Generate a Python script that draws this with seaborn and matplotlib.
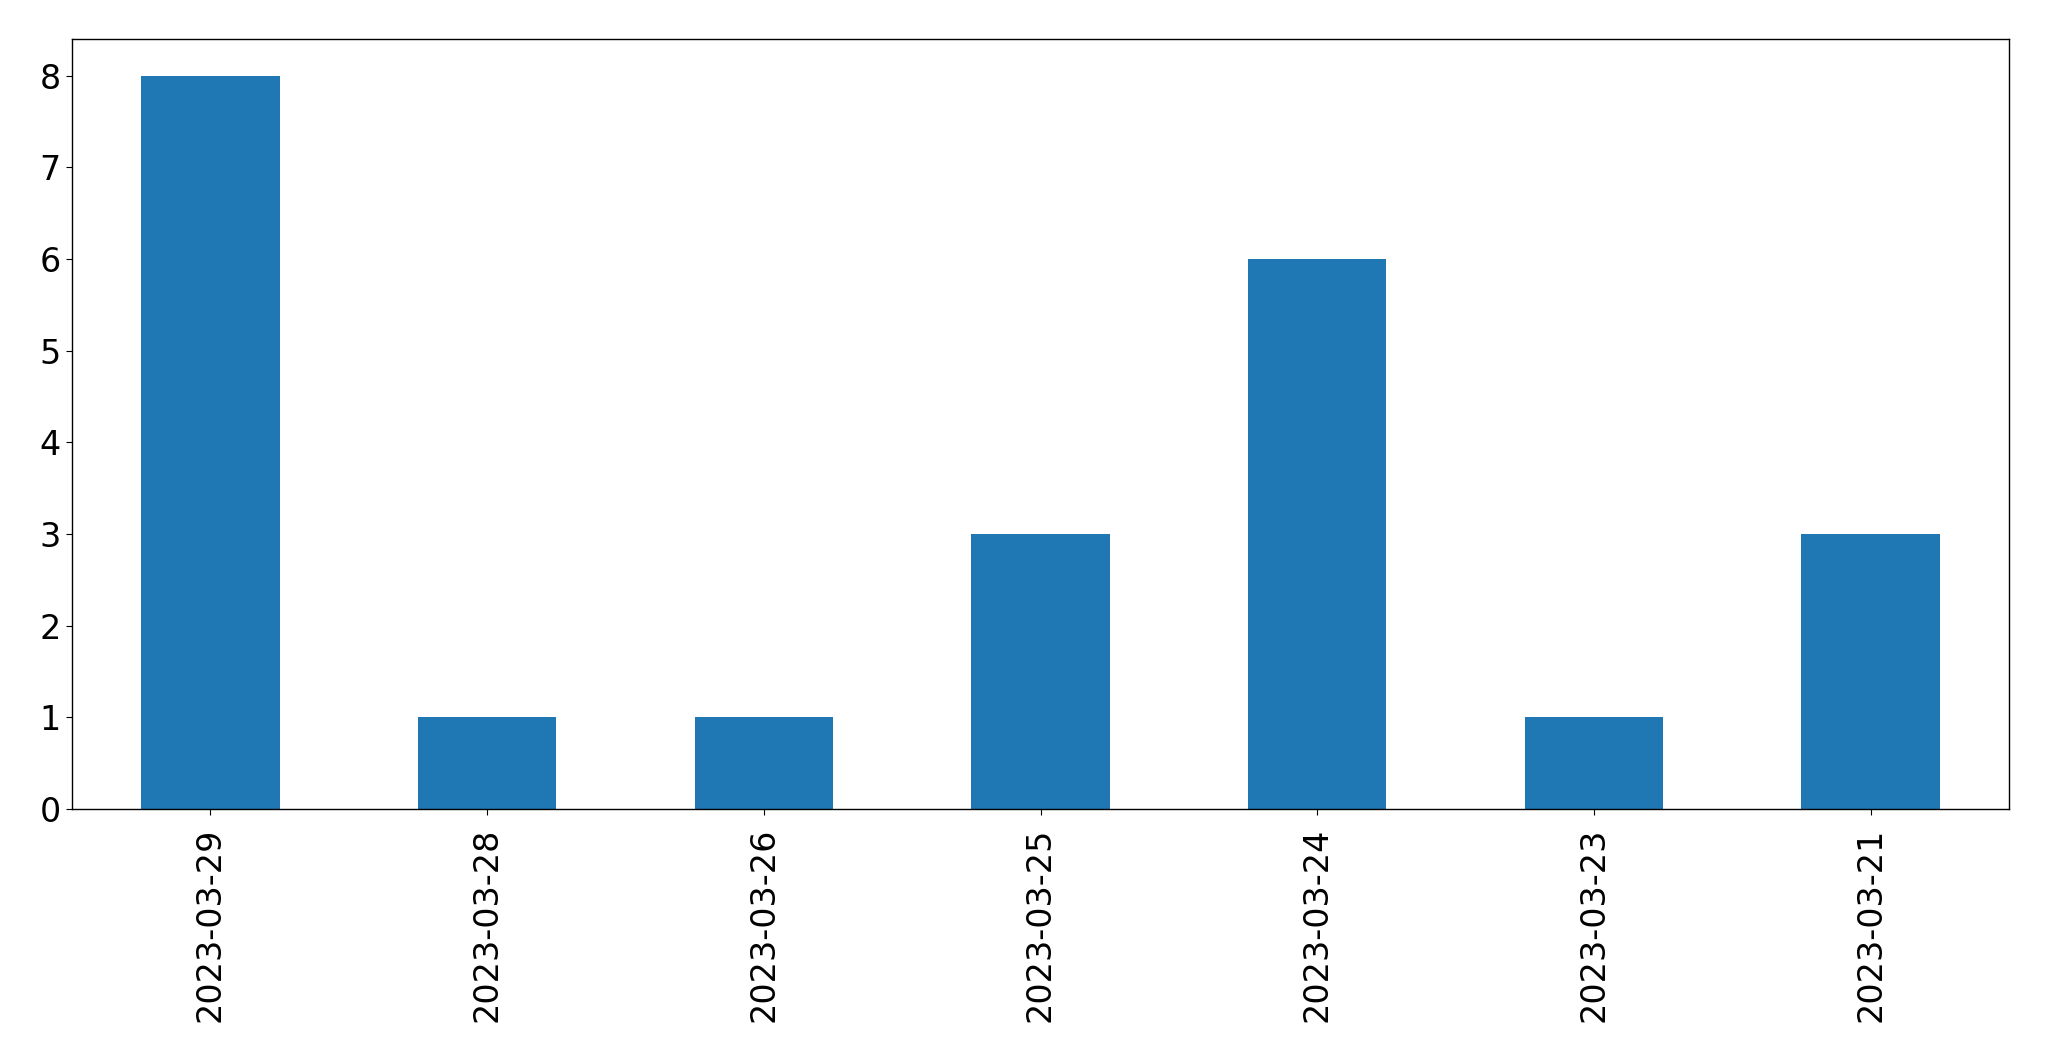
import matplotlib
matplotlib.use("Agg")
import matplotlib.pyplot as plt
import seaborn as sns
import pandas as pd

dates = ["2023-03-29", "2023-03-28", "2023-03-26", "2023-03-25", "2023-03-24", "2023-03-23", "2023-03-21"]
counts = [8, 1, 1, 3, 6, 1, 3]

df = pd.DataFrame({"date": dates, "count": counts})

fig = plt.figure(figsize=(20.49, 10.61), dpi=100)
ax = fig.add_axes([72 / 2049, 1 - 809 / 1061, (2009 - 72) / 2049, (809 - 39) / 1061])
sns.barplot(data=df, x="date", y="count", order=dates, color="#1f77b4",
            saturation=1, width=0.5, ax=ax, errorbar=None)
ax.set_xlim(-0.5, len(dates) - 0.5)
ax.set_ylim(0, 8.4)
ax.set_xlabel("")
ax.set_ylabel("")
ax.tick_params(axis="both", labelsize=24, length=4.5)
ax.tick_params(axis="x", rotation=90, pad=9)
for s in ax.spines.values():
    s.set_linewidth(1.0)
fig.savefig("out.png", dpi=100)
